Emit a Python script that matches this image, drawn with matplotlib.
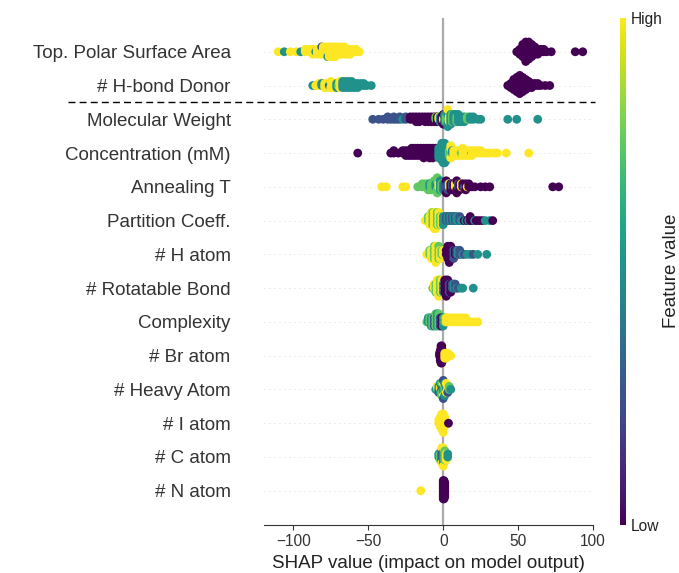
import numpy as np
import matplotlib.pyplot as plt
from matplotlib.lines import Line2D
from matplotlib.cm import ScalarMappable
from matplotlib.colors import Normalize

plt.rcParams['font.family'] = ['Liberation Sans', 'DejaVu Sans']

features = ['Top. Polar Surface Area', '# H-bond Donor', 'Molecular Weight',
            'Concentration (mM)', 'Annealing T', 'Partition Coeff.', '# H atom',
            '# Rotatable Bond', 'Complexity', '# Br atom', '# Heavy Atom',
            '# I atom', '# C atom', '# N atom']

# each entry: (shap value, feature value 0=low..1=high, number of dots)
tpsa_pts = [(-110, 1, 1), (-106, 0.5, 1), (-102, 1, 1), (-98, 1, 1), (-95, 0.5, 1),
            (-92, 1, 2), (-89, 1, 2), (-87, 1, 3), (-85, 0.5, 1), (-84, 1, 3),
            (-82, 1, 3), (-81, 0.25, 1), (-80, 1, 4), (-78, 1, 4), (-77, 0.5, 1),
            (-76, 1, 5), (-74, 1, 5), (-72, 1, 5), (-70, 1, 4), (-68, 1, 4),
            (-66, 1, 4), (-64, 1, 3), (-62, 1, 3), (-60, 1, 2), (-58, 1, 2), (-56, 1, 1),
            (49, 0, 1), (51, 0, 3), (53, 0, 6), (55, 0, 9), (57, 0, 8), (59, 0, 6),
            (61, 0, 4), (63, 0, 3), (65, 0, 2), (67, 0, 2), (69, 0, 1), (72, 0, 1),
            (88, 0, 1), (93, 0, 1)]

hbd_pts = [(-87, 0.5, 1), (-85, 1, 1), (-83, 1, 2), (-81, 0.5, 2), (-79, 1, 3),
           (-77, 1, 3), (-76, 0.25, 1), (-75, 0.5, 2), (-75, 1, 2), (-73, 1, 3),
           (-71, 0.5, 3), (-70, 0.75, 1), (-69, 1, 3), (-67, 0.5, 4), (-65, 0.5, 4),
           (-63, 0.5, 4), (-61, 0.5, 4), (-59, 0.5, 3), (-57, 0.5, 3), (-55, 0.5, 2),
           (-53, 0.5, 2), (-51, 0.5, 1), (-48, 0.5, 1),
           (43, 0, 1), (45, 0, 3), (47, 0, 6), (49, 0, 8), (51, 0, 10), (53, 0, 8),
           (55, 0, 6), (57, 0, 4), (59, 0, 3), (61, 0, 2), (63, 0, 2), (65, 0, 1),
           (68, 0, 1), (71, 0, 1)]

mw_pts = [(-47, 0.25, 1), (-43, 0.25, 1), (-40, 0.25, 1), (-37, 0.25, 2), (-35, 0.25, 1),
          (-33, 0.25, 2), (-31, 0.25, 1), (-29, 0.25, 2), (-27, 0.5, 1), (-25, 0.25, 2),
          (-22, 0, 2), (-20, 0, 2), (-18, 0, 3), (-16, 0, 3), (-14, 0, 2), (-12, 0, 3),
          (-10, 0, 3), (-8, 0, 3), (-6, 0, 3), (-5, 0.75, 2), (-4, 0, 3), (-3, 1, 2),
          (-2, 0.5, 3), (-1, 0, 3), (0, 1, 3), (0, 0, 2), (1, 0.5, 4), (2, 0.75, 3),
          (3, 0.5, 4), (3, 1, 1), (4, 1, 3), (5, 0.5, 5), (6, 0.75, 4), (7, 0.5, 4),
          (8, 0.5, 4), (9, 0.75, 3), (10, 0.5, 4), (12, 0.5, 3), (14, 0.5, 3),
          (16, 0.75, 2), (18, 0.5, 2), (20, 0.5, 2), (23, 0.5, 1), (25, 0.5, 1),
          (43, 0.5, 1), (49, 0.5, 1), (63, 0.5, 1)]

conc_pts = [(-57, 0, 1), (-35, 0, 1), (-33, 0, 2), (-30, 0, 1), (-27, 0, 2), (-25, 0, 3),
            (-23, 0, 3), (-21, 0, 4), (-19, 0, 4), (-17, 0, 4), (-15, 0, 4), (-13, 0, 5),
            (-11, 0, 4), (-9, 0, 5), (-7, 0, 5), (-5, 0, 4), (-3, 0.5, 5), (-1, 0.5, 8),
            (0, 0.5, 9), (1, 0.5, 9), (2, 0.5, 7), (3, 0.5, 5), (4, 0.75, 3), (5, 1, 3),
            (6, 0.5, 2), (7, 1, 3), (9, 1, 3), (11, 1, 3), (12, 0.75, 1), (13, 1, 3),
            (15, 1, 3), (17, 1, 3), (19, 0.5, 1), (19, 1, 2), (21, 1, 2), (23, 1, 2),
            (25, 1, 2), (27, 1, 1), (29, 1, 1), (31, 1, 1), (34, 1, 1), (36, 1, 1),
            (42, 1, 1), (57, 1, 1)]

anneal_pts = [(-41, 1, 1), (-38, 1, 1), (-27, 1, 1), (-25, 1, 1), (-17, 0.75, 1),
              (-14, 0.75, 2), (-12, 0.75, 2), (-10, 0.75, 3), (-9, 0.5, 2), (-8, 0.75, 3),
              (-6, 0.75, 4), (-5, 0.5, 2), (-4, 0.75, 4), (-3, 1, 2), (-2, 0.5, 4),
              (-1, 0.75, 3), (0, 0.5, 3), (1, 0.25, 3), (2, 0, 2), (3, 0.25, 3), (4, 1, 2),
              (5, 0, 3), (6, 0.25, 2), (7, 0, 3), (8, 1, 2), (9, 0, 3), (10, 0.25, 2),
              (11, 0, 3), (12, 1, 2), (13, 0, 2), (14, 0.25, 1), (15, 0, 2), (16, 1, 1),
              (17, 0, 2), (19, 0, 1), (21, 0, 1), (25, 0, 1), (28, 0, 1), (31, 0, 1),
              (73, 0, 1), (77, 0, 1)]

part_pts = [(-12, 1, 1), (-10, 0.75, 2), (-9, 1, 3), (-8, 1, 4), (-7, 0.75, 4),
            (-6, 1, 5), (-5, 1, 5), (-4, 0.75, 4), (-3, 1, 4), (-2, 0.75, 3), (-1, 1, 3),
            (0, 0.5, 3), (1, 0.5, 2), (2, 0.25, 2), (3, 0.5, 2), (4, 0.25, 2), (5, 0.5, 2),
            (6, 0.25, 2), (7, 0.5, 2), (8, 0.25, 2), (9, 0.5, 2), (10, 0.5, 1),
            (11, 0.25, 2), (12, 0.5, 1), (13, 0.5, 1), (14, 0, 1), (15, 0.5, 1), (16, 0, 1),
            (17, 0.5, 1), (18, 0, 2), (20, 0, 1), (21, 0.5, 1), (22, 0, 1), (24, 0, 1),
            (26, 0, 1), (28, 0.5, 1), (31, 0.5, 1), (33, 0, 1)]

hatom_pts = [(-11, 1, 1), (-9, 0.75, 2), (-8, 1, 3), (-7, 1, 3), (-6, 0.75, 4),
             (-5, 1, 5), (-4, 1, 4), (-3, 0.75, 4), (-2, 1, 3), (-1, 0.75, 2), (0, 1, 2),
             (2, 0, 2), (3, 0, 4), (4, 0, 5), (5, 0, 4), (6, 0, 3), (7, 0.25, 3), (8, 0, 2),
             (9, 0.25, 2), (10, 0.5, 2), (11, 0.25, 2), (13, 0.5, 1), (14, 0.25, 1),
             (16, 0.5, 1), (18, 0.5, 1), (20, 0.25, 1), (23, 0.5, 1), (29, 0.5, 1)]

rot_pts = [(-7, 0.75, 1), (-6, 1, 2), (-5, 0.75, 3), (-4, 1, 4), (-3, 1, 5),
           (-2, 0.75, 4), (-1, 1, 4), (0, 0.5, 3), (1, 0, 4), (2, 0, 5), (3, 0, 4),
           (4, 0.25, 3), (5, 0, 3), (6, 0.25, 2), (7, 0.5, 2), (8, 0.25, 2), (9, 0.5, 1),
           (10, 0.25, 1), (12, 0.5, 1), (13, 0.5, 1), (20, 0.5, 1)]

cplx_pts = [(-11, 0.75, 1), (-10, 0.5, 2), (-9, 0.75, 2), (-8, 0.5, 3), (-7, 0.75, 3),
            (-6, 0.25, 3), (-5, 0.75, 4), (-4, 0.5, 4), (-3, 0.75, 4), (-2, 0.25, 3),
            (-1, 0, 3), (0, 0.5, 3), (1, 0.75, 2), (2, 1, 2), (3, 1, 2), (5, 1, 2),
            (7, 1, 2), (9, 1, 2), (11, 1, 2), (13, 1, 2), (15, 1, 2), (17, 1, 1),
            (19, 1, 1), (21, 1, 1), (23, 1, 1)]

br_pts = [(-2.5, 0, 2), (-2, 0, 5), (-1.5, 0, 8), (-1, 0, 8), (-0.5, 0, 5),
          (1, 1, 3), (2, 1, 3), (3, 1, 2), (4, 1, 1), (5, 1, 1)]

heavy_pts = [(-5, 0.5, 1), (-4, 0.75, 1), (-4, 1, 1), (-3, 0.5, 2), (-3, 0.25, 1),
             (-2, 1, 2), (-2, 0.5, 2), (-1, 0.25, 2), (-1, 0.75, 3), (0, 0.5, 3),
             (0, 1, 2), (0, 0.25, 2), (1, 0.75, 3), (1, 0.5, 2), (2, 0.5, 2), (2, 1, 2),
             (3, 1, 2), (3, 0.25, 1), (4, 0.75, 2), (5, 0.5, 1)]

iatom_pts = [(-3, 1, 2), (-2, 1, 4), (-1, 1, 6), (0, 1, 7), (1, 1, 4), (3.5, 0, 1)]

catom_pts = [(-3, 0.5, 2), (-2, 0.75, 3), (-1, 0.25, 4), (-1, 1, 2), (0, 0.5, 5),
             (0, 1, 2), (1, 0.75, 4), (2, 1, 3), (3, 0.5, 2)]

natom_pts = [(-15, 1, 1), (0, 0, 10), (0.5, 0, 10), (1, 0, 8)]

rows = [tpsa_pts, hbd_pts, mw_pts, conc_pts, anneal_pts, part_pts, hatom_pts,
        rot_pts, cplx_pts, br_pts, heavy_pts, iatom_pts, catom_pts, natom_pts]


def beeswarm_offsets(shaps, row_height=0.4, nbins=100):
    # same layering scheme as shap's summary plot
    quant = np.round(nbins * (shaps - shaps.min()) / (shaps.max() - shaps.min() + 1e-8))
    inds = np.argsort(quant, kind='stable')
    ys = np.zeros(len(shaps))
    layer = 0
    last_bin = -1
    for ind in inds:
        if quant[ind] != last_bin:
            layer = 0
        ys[ind] = np.ceil(layer / 2) * ((layer % 2) * 2 - 1)
        layer += 1
        last_bin = quant[ind]
    ys *= 0.9 * (row_height / np.max(ys + 1))
    return ys


fig = plt.figure(figsize=(6.79, 5.73), dpi=100)
ax = fig.add_axes([0.3888, 0.0846, 0.4849, 0.884])

n = len(features)
for i, pts in enumerate(rows):
    pos = n - 1 - i
    shaps = np.array([p[0] for p in pts for _ in range(p[2])], dtype=float)
    vals = np.array([p[1] for p in pts for _ in range(p[2])], dtype=float)
    ys = beeswarm_offsets(shaps)
    ax.axhline(pos, color='#cccccc', lw=0.6, dashes=(1, 5), zorder=-1)
    ax.scatter(shaps, pos + ys, c=vals, cmap='viridis', vmin=0, vmax=1,
               s=40, linewidth=0, zorder=3)

ax.axvline(0, color='#aaaaaa', lw=1.6, zorder=-1)

ax.set_xlim(-119.5, 100)
ax.set_ylim(-1, n)
ax.set_yticks(range(n))
ax.set_yticklabels(features[::-1], fontsize=13.5, color='#333333')
ax.tick_params(axis='y', length=0, pad=24)
ax.tick_params(axis='x', labelsize=11.2, colors='#333333')
ax.set_xticks([-100, -50, 0, 50, 100])
ax.set_xlabel('SHAP value (impact on model output)', fontsize=13.5, color='#222222')
for side in ['top', 'right', 'left']:
    ax.spines[side].set_visible(False)
ax.spines['bottom'].set_color('#333333')

# dashed separator under the two polar-surface features
fig.add_artist(Line2D([0.100, 0.876], [0.822, 0.822], transform=fig.transFigure,
                      color='black', lw=1.0, ls=(0, (5, 3))))

cax = fig.add_axes([620 / 679, 0.0846, 6 / 679, 0.884])
sm = ScalarMappable(norm=Normalize(0, 1), cmap='viridis')
cb = fig.colorbar(sm, cax=cax, ticks=[0, 1])
cb.set_ticklabels(['Low', 'High'])
cb.ax.tick_params(labelsize=11.2, length=0, colors='#222222')
cb.set_label('Feature value', size=13.5, labelpad=0, color='#222222')
cb.outline.set_visible(False)

fig.savefig('out.png', dpi=100)
